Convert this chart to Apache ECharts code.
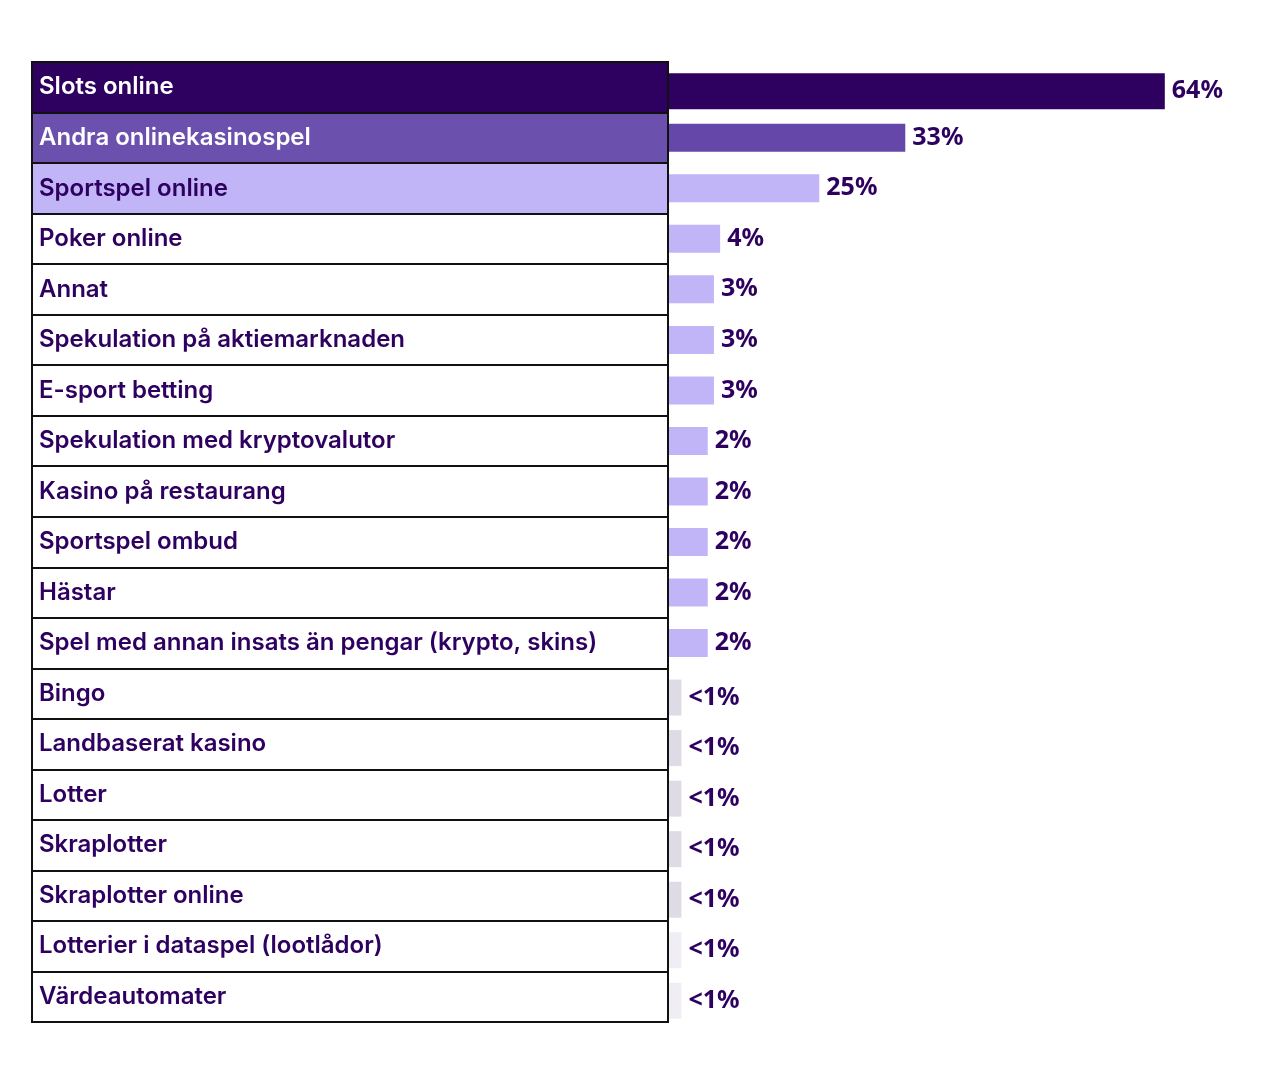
<!DOCTYPE html>
<html>
<head>
<meta charset="utf-8">
<script src="https://cdn.jsdelivr.net/npm/echarts@6/dist/echarts.min.js"></script>
<style>
html,body{margin:0;padding:0;background:#fff;}
#chart{width:1281px;height:1068px;}
</style>
</head>
<body>
<div id="chart"></div>
<script>
// Categories (table rows, top to bottom)
var categories = [
  'Slots online',
  'Andra onlinekasinospel',
  'Sportspel online',
  'Poker online',
  'Annat',
  'Spekulation på aktiemarknaden',
  'E-sport betting',
  'Spekulation med kryptovalutor',
  'Kasino på restaurang',
  'Sportspel ombud',
  'Hästar',
  'Spel med annan insats än pengar (krypto, skins)',
  'Bingo',
  'Landbaserat kasino',
  'Lotter',
  'Skraplotter',
  'Skraplotter online',
  'Lotterier i dataspel (lootlådor)',
  'Värdeautomater'
];
// Value labels as printed
var shareLabels = ['64%','33%','25%','4%','3%','3%','3%','2%','2%','2%','2%','2%','<1%','<1%','<1%','<1%','<1%','<1%','<1%'];
// Bar lengths as drawn in the picture (in the scale where the top bar = 64)
var barLength = [64, 30.5, 19.4, 6.6, 5.8, 5.8, 5.8, 5.0, 5.0, 5.0, 5.0, 5.0, 1.6, 1.6, 1.6, 1.6, 1.6, 1.6, 1.6];

// Styles
var DARK = '#2e005f', MID = '#6b50ad', MIDBAR = '#6547a9', LIGHT = '#c1b5f7', GREY = '#dfdbe6', PALE = '#f0edf5';
var LINE = '#111111';
function rowFill(i){ return i===0 ? DARK : i===1 ? MID : i===2 ? LIGHT : 'rgba(255,255,255,0)'; }
function rowText(i){ return i<2 ? '#ffffff' : DARK; }
function barColor(i){ return i===0 ? DARK : i===1 ? MIDBAR : i<12 ? LIGHT : i<17 ? GREY : PALE; }
function isThin(i){ return i>=1 && i<=11; }

var chart = echarts.init(document.getElementById('chart'), null, {renderer:'canvas'});

var tableData = categories.map(function(c,i){
  return {value:1, itemStyle:{color:rowFill(i)}, label:{color:rowText(i)}};
});
function barData(thin){
  return barLength.map(function(v,i){
    if (isThin(i) !== thin) return '-';
    return {value:v, itemStyle:{color:barColor(i)}};
  });
}
var valueLabel = {
  show:true, position:'right', distance:7,
  fontFamily:'Noto Sans', fontWeight:'bold', fontSize:25, color:DARK,
  formatter:function(p){ return shareLabels[p.dataIndex]; }
};

chart.setOption({
  animation:false,
  backgroundColor:'#ffffff',
  grid:[
    {left:32, top:62, width:636, height:960, show:true, z:10,
     backgroundColor:'rgba(0,0,0,0)', borderColor:LINE, borderWidth:2},
    {left:669, top:62, width:612, height:960}
  ],
  xAxis:[
    {gridIndex:0, type:'value', min:0, max:1, show:false},
    {gridIndex:1, type:'value', min:0, max:79, show:false}
  ],
  yAxis:[
    {gridIndex:0, type:'category', data:categories, inverse:true, show:true, z:10,
     axisLine:{show:false}, axisTick:{show:false}, axisLabel:{show:false},
     splitLine:{show:true, interval:0, lineStyle:{color:LINE, width:2}}},
    {gridIndex:1, type:'category', data:categories, inverse:true, show:false}
  ],
  series:[
    {
      type:'bar', xAxisIndex:0, yAxisIndex:0, data:tableData,
      barWidth:'100%',
      label:{show:true, position:'insideLeft', distance:7,
        fontFamily:'Inter', fontWeight:600, fontSize:24,
        formatter:function(p){ return categories[p.dataIndex]; }},
      silent:true
    },
    {
      type:'bar', xAxisIndex:1, yAxisIndex:1, data:barData(false),
      barWidth:36, barGap:'-100%', label:valueLabel
    },
    {
      type:'bar', xAxisIndex:1, yAxisIndex:1, data:barData(true),
      barWidth:28, barGap:'-100%', label:valueLabel
    }
  ]
});
</script>
</body>
</html>
